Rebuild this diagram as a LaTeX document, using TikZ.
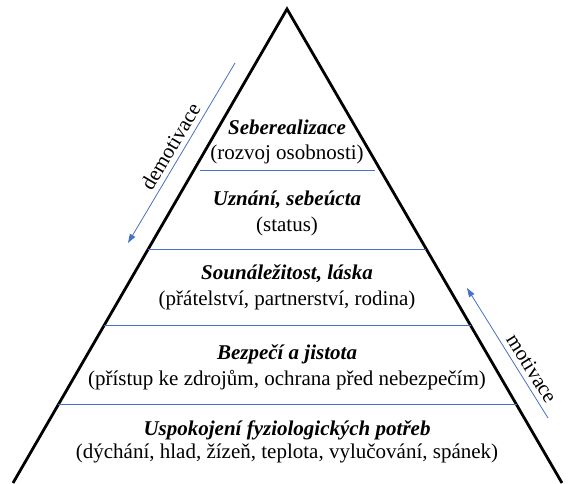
\documentclass[tikz,border=0pt]{standalone}
\usepackage{fontspec}
\setmainfont{Liberation Serif}
\usetikzlibrary{arrows.meta,calc,positioning}
\definecolor{lineblue}{RGB}{68,114,196}
\begin{document}
\begin{tikzpicture}[x=1pt, y=-1pt, node distance=26pt,
    level title/.style={font=\fontsize{21}{25}\selectfont\bfseries\itshape},
    level note/.style={font=\fontsize{21}{25}\selectfont},
    level line/.style={draw=lineblue, line width=1pt},
    flow arrow/.style={draw=lineblue, line width=0.8pt, -{Triangle[length=9pt,width=6pt]}}]
  \tikzstyle{every node}=[inner sep=0pt]
  \useasboundingbox (0,0) rectangle (573,483);

  % pyramid
  \coordinate (top) at (287,9);
  \coordinate (left) at (13,483);
  \coordinate (right) at (562,483);
  \draw[line width=2.8pt] (left) -- (top) -- (right);

  % level borders
  \draw[level line] ($(top)!0.34!(left)+(6,0)$) -- ($(top)!0.34!(right)+(-6,0)$);
  \foreach \t in {0.507,0.668,0.835}
    \draw[level line] ($(top)!\t!(left)$) -- ($(top)!\t!(right)$);

  % levels
  \node[level title] (self) at (287,127) {Seberealizace};
  \node[level note] (selfnote) [below of=self, node distance=27pt] {(rozvoj osobnosti)};
  \node[level title] (esteem) at (287,200) {Uznání, sebeúcta};
  \node[level note] (esteemnote) [below of=esteem] {(status)};
  \node[level title] (love) at (287,274) {Sounáležitost, láska};
  \node[level note] (lovenote) [below of=love] {(přátelství, partnerství, rodina)};
  \node[level title] (safety) at (287,354) {Bezpečí a jistota};
  \node[level note] (safetynote) [below of=safety] {(přístup ke zdrojům, ochrana před nebezpečím)};
  \node[level title] (body) at (287,430) {Uspokojení fyziologických potřeb};
  \node[level note] (bodynote) [below of=body, node distance=23pt] {(dýchání, hlad, žízeň, teplota, vylučování, spánek)};

  % arrows
  \coordinate (demostart) at (235,63);
  \coordinate (demoend) at (128,243);
  \coordinate (motstart) at (548,418);
  \coordinate (motend) at (467,288);
  \draw[flow arrow] (demostart) -- node[midway, sloped, above=5pt, level note] {demotivace} (demoend);
  \draw[flow arrow] (motstart) -- node[pos=0.33, sloped, above=5pt, level note] {motivace} (motend);
\end{tikzpicture}
\end{document}
